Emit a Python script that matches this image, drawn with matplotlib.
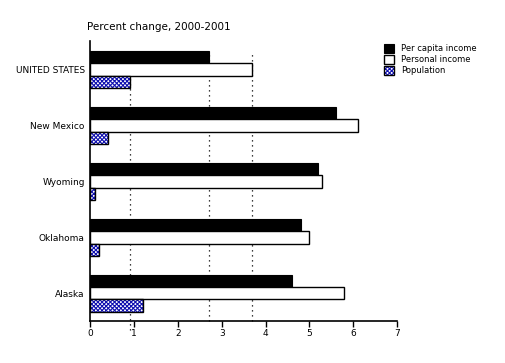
import matplotlib.pyplot as plt
import numpy as np

#----------data----------
states = ["Alaska", "Oklahoma", "Wyoming", "New Mexico", "UNITED STATES"]
per_capita = [4.6, 4.8, 5.2, 5.6, 2.7]
personal = [5.8, 5.0, 5.3, 6.1, 3.7]
population = [1.2, 0.2, 0.1, 0.4, 0.9]
us_refs = [0.9, 2.7, 3.7]
xticks = [0, 1, 2, 3, 4, 5, 6, 7]

#----------figure----------
plt.rcParams['hatch.linewidth'] = 0.8
fig = plt.figure(figsize=(5.05, 3.63), dpi=100)
ax = fig.add_axes([0.179, 0.1165, 0.607, 0.7705])

y = np.arange(len(states))
h = 0.22
pop_hatch = 'xxxxxxxx'
pop_blue = '#1010b0'

# reference lines for US values
for i, v in enumerate(us_refs):
    low = -0.66 if i == 0 else -0.49
    ax.vlines(v, low, 4.33, colors='black', linestyles=(0, (1, 3)),
              linewidth=0.9, zorder=1, clip_on=False)

ax.barh(y + h, per_capita, height=h, color='black', edgecolor='black',
        linewidth=0.8, zorder=3, label="Per capita income")
ax.barh(y, personal, height=h, color='white', edgecolor='black',
        linewidth=1.0, zorder=3, label="Personal income")
# population: blue checker hatch, then black outline on top
ax.barh(y - h, population, height=h, color='white', edgecolor=pop_blue,
        hatch=pop_hatch, linewidth=0, zorder=3)
ax.barh(y - h, population, height=h, color='none', edgecolor='black',
        linewidth=1.0, zorder=4)
pop_fill = plt.Rectangle((0, 0), 1, 1, facecolor='white', edgecolor=pop_blue,
                         hatch=pop_hatch, linewidth=0)
pop_edge = plt.Rectangle((0, 0), 1, 1, facecolor='none', edgecolor='black', linewidth=1.0)

ax.set_xlim(0, 7)
ax.set_ylim(-0.49, 4.51)
ax.set_xticks(xticks)
ax.set_xticklabels([str(t) for t in xticks], fontsize=6.5)
ax.set_yticks(y)
ax.set_yticklabels(states, fontsize=6.5)
ax.tick_params(axis='y', length=0, pad=4)
ax.tick_params(axis='x', length=4, width=1, pad=2)
ax.spines['top'].set_visible(False)
ax.spines['right'].set_visible(False)
ax.spines['left'].set_linewidth(1.2)
ax.spines['bottom'].set_linewidth(1.2)

fig.text(0.172, 0.925, "Percent change, 2000-2001", fontsize=7.5, ha='left', va='center')

# legend
handles, labels = ax.get_legend_handles_labels()
handles.append((pop_fill, pop_edge))
labels.append("Population")
leg = fig.legend(handles, labels, loc='upper left', bbox_to_anchor=(0.745, 0.9),
                 frameon=False, fontsize=6, handlelength=1.2, handleheight=1.3,
                 handletextpad=0.9, labelspacing=0.2)

plt.savefig("out.png", dpi=100)
